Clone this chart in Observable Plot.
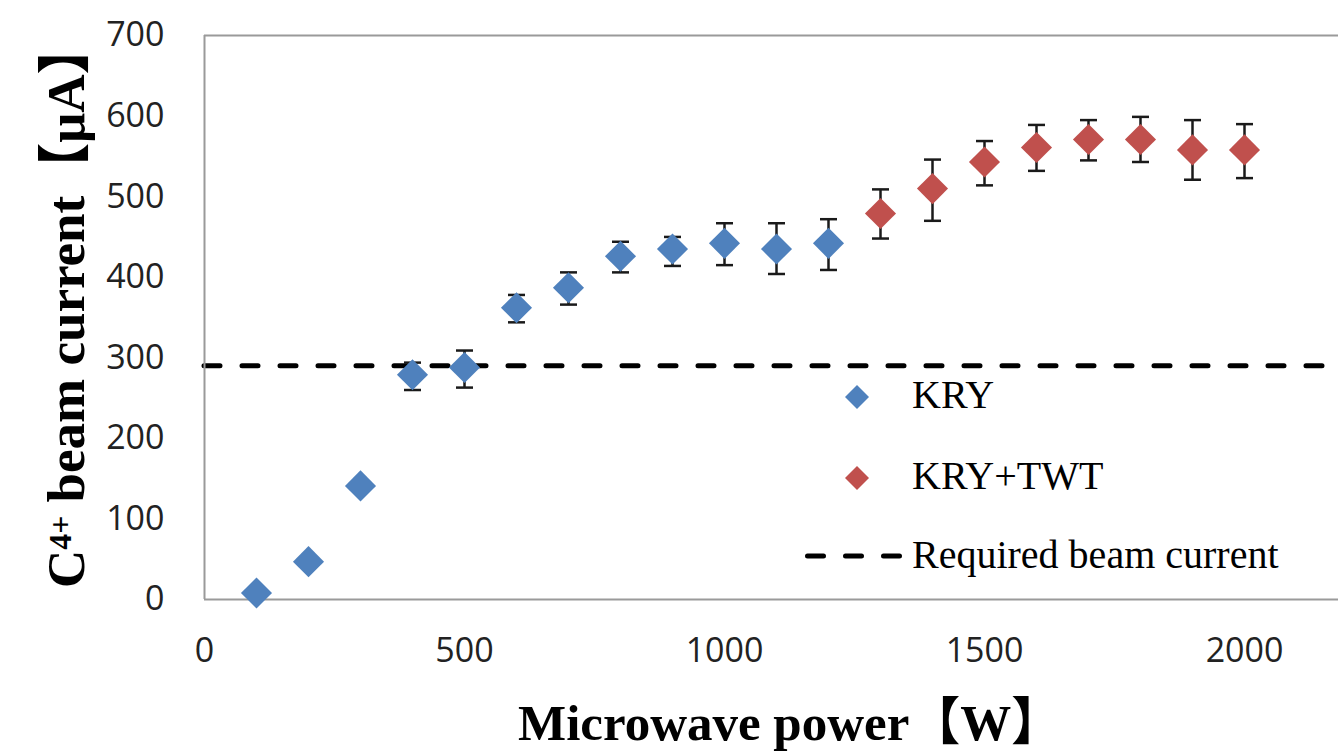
<!DOCTYPE html>
<html><head><meta charset="utf-8">
<script src="https://cdn.jsdelivr.net/npm/d3@7"></script>
<script src="https://cdn.jsdelivr.net/npm/@observablehq/plot@0.6"></script>
<style>
html,body{margin:0;padding:0;background:#fff;overflow:hidden;}
#wrap{position:relative;width:1338px;height:756px;overflow:hidden;}
#wrap > svg{position:absolute;left:0;top:0;overflow:hidden;}
.t{position:absolute;white-space:nowrap;line-height:1;color:#000;}
.serif{font-family:"Liberation Serif","Times New Roman",serif;}
.cjk{font-family:"Noto Sans CJK JP","Noto Sans CJK SC",sans-serif;font-weight:bold;}
</style></head><body><div id="wrap"></div>
<script>
// ---- data ----
const kryPower   = [100, 200, 300, 400, 500, 600, 700, 800, 900, 1000, 1100, 1200];
const kryCurrent = [8, 47, 141, 279, 288, 362, 387, 426, 435, 442, 435, 442];
const kryLow     = [null, null, null, 260, 263, 344, 366, 406, 414, 415, 404, 409];
const kryHigh    = [null, null, null, 294, 309, 378, 406, 444, 450, 467, 467, 472];

const twtPower   = [1300, 1400, 1500, 1600, 1700, 1800, 1900, 2000];
const twtCurrent = [479, 510, 543, 561, 571, 571, 558, 558];
const twtLow     = [448, 470, 514, 532, 545, 543, 521, 523];
const twtHigh    = [509, 546, 569, 589, 595, 599, 595, 590];

const requiredCurrent = 290;
const xTicks = [0, 500, 1000, 1500, 2000];
const yTicks = [0, 100, 200, 300, 400, 500, 600, 700];
const seriesNames = ["KRY", "KRY+TWT", "Required beam current"];
const colors = {KRY: "#4F81BD", TWT: "#C0504D"};

// ---- build tables ----
const kry = kryPower.map((x, i) => ({x, y: kryCurrent[i], lo: kryLow[i], hi: kryHigh[i]}));
const twt = twtPower.map((x, i) => ({x, y: twtCurrent[i], lo: twtLow[i], hi: twtHigh[i]}));
const errs = kry.concat(twt).filter(d => d.lo != null);

// horizontal cap symbol for error bars
const capSymbol = {draw(c, s) { const w = Math.sqrt(s); c.moveTo(-w, 0); c.lineTo(w, 0); }};

const frame = "#9a9a9a";
const chart = Plot.plot({
  width: 1338, height: 756,
  marginLeft: 204, marginTop: 35, marginBottom: 157, marginRight: 0,
  x: {domain: [0, 2200], range: [204, 1348]},
  y: {domain: [0, 700], range: [599, 35]},
  style: {background: "transparent", fontFamily: "'Open Sans', sans-serif", fontSize: "34px", color: "#222"},
  marks: [
    Plot.ruleY([requiredCurrent], {stroke: "#000", strokeWidth: 5, strokeDasharray: "16,22", strokeLinecap: "round"}),
    Plot.ruleX([0], {stroke: frame, strokeWidth: 2}),
    Plot.ruleY([0, 700], {stroke: frame, strokeWidth: 2}),
    Plot.ruleX(errs, {x: "x", y1: "lo", y2: "hi", stroke: "#1a1a1a", strokeWidth: 2.5}),
    Plot.dot(errs, {x: "x", y: "lo", symbol: capSymbol, r: 4.8, stroke: "#1a1a1a", strokeWidth: 2.5, fill: "none"}),
    Plot.dot(errs, {x: "x", y: "hi", symbol: capSymbol, r: 4.8, stroke: "#1a1a1a", strokeWidth: 2.5, fill: "none"}),
    Plot.dot(kry, {x: "x", y: "y", symbol: "diamond2", r: 14, fill: colors.KRY, stroke: "none"}),
    Plot.dot(twt, {x: "x", y: "y", symbol: "diamond2", r: 14, fill: colors.TWT, stroke: "none"}),
    Plot.axisY({ticks: yTicks, tickSize: 0, tickPadding: 40, label: null, fill: "#222", tickFormat: d3.format("d")}),
    Plot.axisX({ticks: xTicks, tickSize: 0, tickPadding: 38, label: null, fill: "#222", tickFormat: d3.format("d")})
  ]
});
const wrap = document.getElementById("wrap");
wrap.appendChild(chart);

// ---- axis titles ----
const yt = document.createElement("div");
yt.className = "t serif";
yt.style.cssText = "left:35px;top:588px;transform-origin:0 0;transform:rotate(-90deg);font-weight:bold;font-size:53px;";
yt.innerHTML = 'C<span style="position:relative;top:-0.42em;font-size:0.6em">4+</span> beam current<span class="cjk">【</span>μA<span class="cjk">】</span>';
wrap.appendChild(yt);

const xt = document.createElement("div");
xt.className = "t serif";
xt.style.cssText = "left:518px;top:693px;font-weight:bold;font-size:51px;";
xt.innerHTML = 'Microwave power<span class="cjk">【</span>W<span class="cjk">】</span>';
wrap.appendChild(xt);

// ---- legend ----
const legendRows = [
  {name: seriesNames[0], kind: "dot", color: colors.KRY, cy: 397, base: 408},
  {name: seriesNames[1], kind: "dot", color: colors.TWT, cy: 478, base: 489},
  {name: seriesNames[2], kind: "dash", color: "#000", cy: 556, base: 568}
];
legendRows.forEach(r => {
  const s = document.createElementNS("http://www.w3.org/2000/svg", "svg");
  s.setAttribute("width", 110); s.setAttribute("height", 30);
  s.style.cssText = `position:absolute;left:800px;top:${r.cy - 15}px;overflow:visible`;
  if (r.kind === "dot") {
    s.innerHTML = `<polygon points="57,3 69,15 57,27 45,15" fill="${r.color}"/>`;
  } else {
    s.innerHTML = `<line x1="7.5" x2="103" y1="15" y2="15" stroke="#000" stroke-width="5" stroke-dasharray="16,22" stroke-linecap="round"/>`;
  }
  wrap.appendChild(s);
  const t = document.createElement("div");
  t.className = "t serif";
  t.style.cssText = `left:912px;top:${r.base - 33.5}px;font-size:40px;`;
  t.textContent = r.name;
  wrap.appendChild(t);
});
</script></body></html>
